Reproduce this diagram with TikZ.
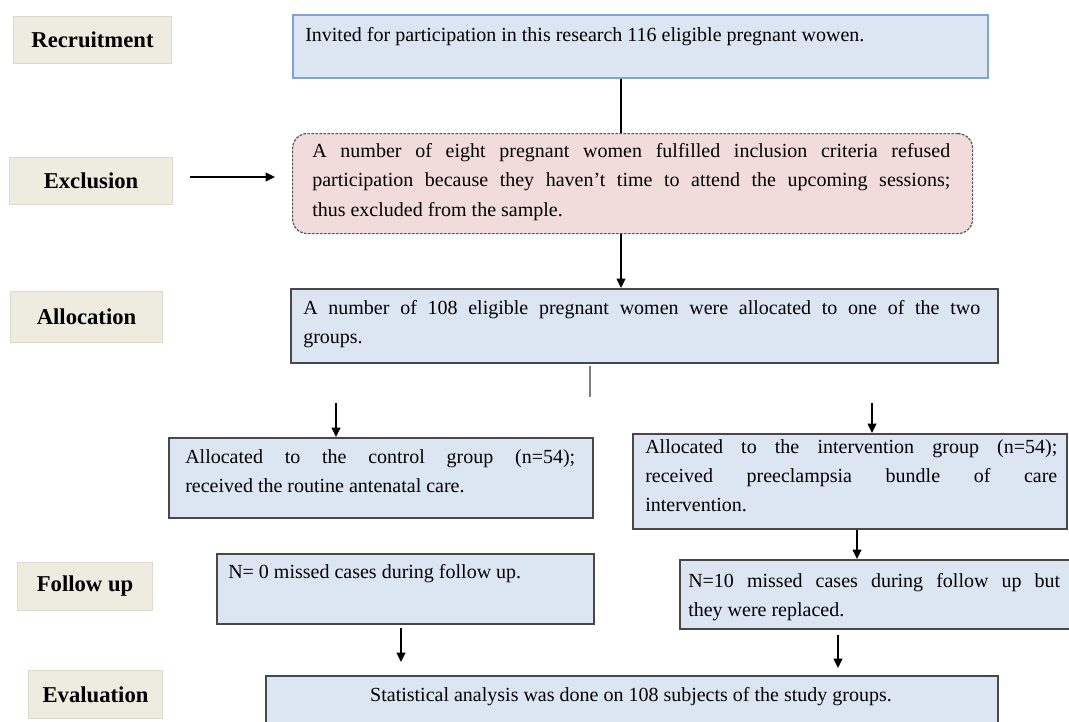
\documentclass[tikz,border=0pt]{standalone}
\usepackage{fontspec}
\setmainfont{Liberation Serif}
\usepackage{tikz}
\usetikzlibrary{arrows.meta}

\definecolor{stagefill}{RGB}{238,236,225}
\definecolor{stageline}{RGB}{222,218,200}
\definecolor{panelfill}{RGB}{220,230,242}
\definecolor{panelline}{RGB}{72,72,72}
\definecolor{topline}{RGB}{126,163,212}
\definecolor{exclfill}{RGB}{242,220,219}
\definecolor{exclline}{RGB}{85,85,85}

\tikzset{
  stage/.style={draw=stageline, fill=stagefill, line width=0.8pt, anchor=north west, inner sep=0pt,
    font=\fontsize{17}{20}\selectfont\bfseries},
  panel/.style={draw=panelline, fill=panelfill, line width=1.5pt, anchor=north west, inner sep=0pt},
  exclbox/.style={draw=exclline, fill=exclfill, line width=0.9pt, dash pattern=on 2pt off 1pt,
    rounded corners=11pt, anchor=north west, inner sep=0pt},
  txt/.style={anchor=north west, inner sep=0pt, align=justify, font=\fontsize{15}{22}\selectfont},
  arr/.style={-{Triangle[length=7pt,width=6.5pt]}, line width=1.1pt},
  stub/.style={draw=black!50, line width=1.5pt},
  size/.style 2 args={minimum width=#1, minimum height=#2},
}

\begin{document}
\begin{tikzpicture}[x=0.75pt, y=-0.75pt]
\useasboundingbox (0,0) rectangle (1069,721);
\clip (0,0) rectangle (1069,721);

% stages
\node[stage, size={118.5pt}{35.25pt}] (rec) at (13,16) {Recruitment};
\node[stage, size={122.25pt}{35.25pt}] (exl) at (9,157) {Exclusion};
\node[stage, size={114pt}{38.25pt}] (all) at (10,291) {Allocation};
\node[stage, size={101.25pt}{36pt}] (fol) at (17,562) {Follow up};
\node[stage, size={100.5pt}{36pt}] (evl) at (28,670) {Evaluation};

% flow boxes
\node[panel, draw=topline, line width=1.2pt, size={521.25pt}{47.25pt}] (top) at (292,14) {};
\node[txt, align=left] (topt) at (305,27) {Invited for participation in this research 116 eligible pregnant wowen.};

\node[exclbox, size={510pt}{75pt}] (ex) at (292,133) {};
\node[txt, text width=478.5pt] (ext) at (312,143) {A number of eight pregnant women fulfilled inclusion criteria refused\linebreak
  participation because they haven’t time to attend the upcoming sessions;\linebreak
  thus excluded from the sample.};

\node[panel, size={530.25pt}{55.5pt}] (al) at (290,288) {};
\node[txt, text width=507.75pt] (alt) at (303,300) {A number of 108 eligible pregnant women were allocated to one of the two\linebreak groups.};

\node[panel, size={318pt}{60pt}] (ctl) at (168,437) {};
\node[txt, text width=292.5pt] (ctlt) at (185,449) {Allocated to the control group (n=54);\linebreak received the routine antenatal care.};

\node[panel, size={325.5pt}{71.25pt}] (inv) at (632,433) {};
\node[txt, text width=309pt] (invt) at (645,439) {Allocated to the intervention group (n=54);\linebreak
  received preeclampsia bundle of care\linebreak intervention.};

\node[panel, size={282.75pt}{52.5pt}] (fl) at (216,553) {};
\node[txt, align=left] (flt) at (228,564) {N= 0 missed cases during follow up.};

\node[panel, size={315pt}{51.75pt}] (fr) at (679,559) {};
\node[txt, text width=279pt] (frt) at (688,573) {N=10 missed cases during follow up but\linebreak they were replaced.};

\node[panel, size={549pt}{45pt}] (ev) at (265,675) {};
\node[txt, anchor=center, align=center] (evt) at (631,697) {Statistical analysis was done on 108 subjects of the study groups.};

% connectors
\coordinate (mid) at (621,0);
\draw[line width=1.1pt] (top.south -| mid) -- (ex.north -| mid);
\draw[arr] (ex.south -| mid) -- (al.north -| mid);

\coordinate (exa) at (190,177);
\draw[arr] (exa) -- ++(85,0);

\coordinate (g1) at (590,366);
\coordinate (g2) at (590,397);
\draw[stub] (g1) -- (g2);

\coordinate (ctla) at (336,403);
\draw[arr] (ctla) -- (ctla |- ctl.north);
\coordinate (inva) at (872,403);
\draw[arr] (inva) -- (inva |- inv.north);

\coordinate (frcol) at (857,0);
\draw[arr] (inv.south -| frcol) -- (fr.north -| frcol);

\coordinate (fla) at (401,628);
\coordinate (flb) at (401,662);
\draw[arr] (fla) -- (flb);
\coordinate (fra) at (838,635);
\coordinate (frb) at (838,668);
\draw[arr] (fra) -- (frb);

\end{tikzpicture}
\end{document}
